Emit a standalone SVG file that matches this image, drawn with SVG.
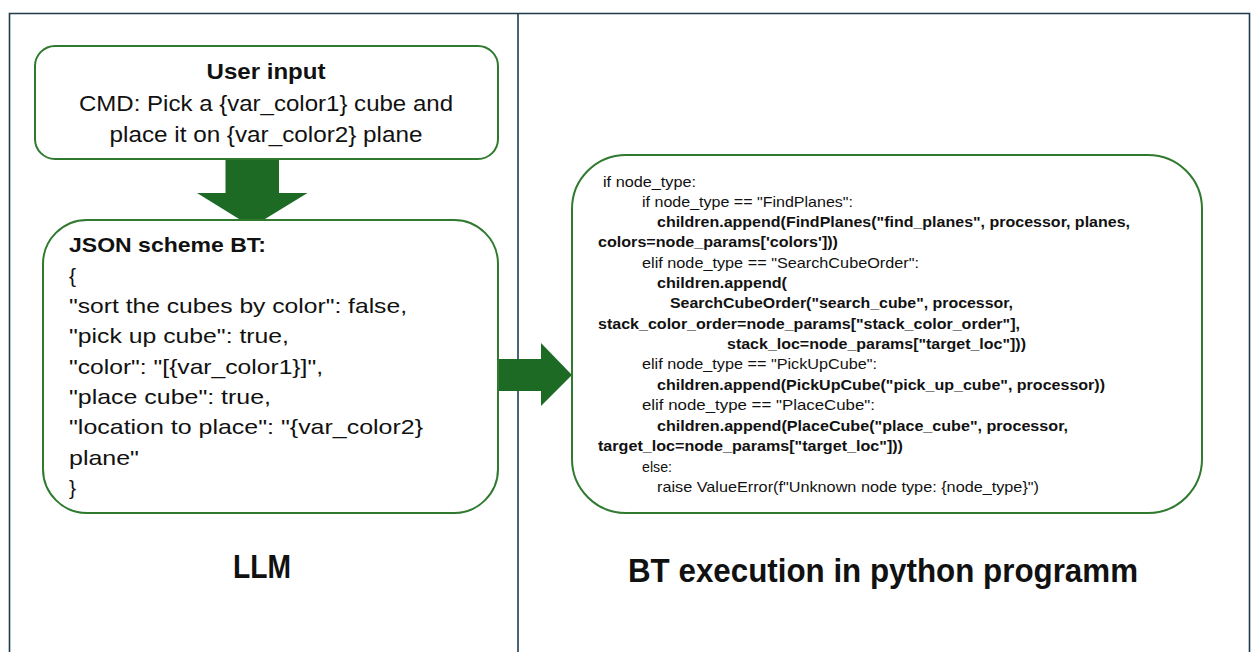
<svg xmlns="http://www.w3.org/2000/svg" width="1254" height="652" viewBox="0 0 1254 652">
  <style>
    .frame { fill: none; stroke: #1f3b4d; stroke-width: 1.6; }
    .box { fill: #ffffff; stroke: #2f7a2f; stroke-width: 2; }
    .arrow { fill: #1d6a25; stroke: none; }
    .t { font-family: "Liberation Sans", Arial, sans-serif; fill: #111111; }
    .head { font-size: 22px; font-weight: bold; }
    .body { font-size: 22px; }
    .json { font-size: 21px; }
    .jsonhead { font-size: 21px; font-weight: bold; }
    .code { font-size: 15px; }
    .codeb { font-size: 15px; font-weight: bold; }
    .label { font-size: 33px; font-weight: bold; }
  </style>

  <rect width="1254" height="652" fill="#ffffff"/>

  <!-- panel frame: two columns, open at the bottom -->
  <g id="panels">
    <path class="frame" d="M9.5 652 V13.5 H1249.5 V652"/>
    <line class="frame" x1="518" y1="13.5" x2="518" y2="652"/>
    <text class="t label" x="262" y="578" text-anchor="middle" textLength="58" lengthAdjust="spacingAndGlyphs">LLM</text>
    <text class="t label" x="883" y="582" text-anchor="middle" textLength="510" lengthAdjust="spacingAndGlyphs">BT execution in python programm</text>
  </g>

  <!-- connectors -->
  <g id="connectors">
    <polygon class="arrow" points="225.5,158 279,158 279,193 307.5,193 252,227 197,193 225.5,193"/>
    <polygon class="arrow" points="498,359 541,359 541,343 572,375 541,406 541,391 498,391"/>
  </g>

  <!-- user command -->
  <g id="user-input">
    <rect class="box" x="35" y="46" width="463" height="113" rx="20" ry="20"/>
    <text class="t head" x="266" y="79" text-anchor="middle" textLength="119" lengthAdjust="spacingAndGlyphs">User input</text>
    <text class="t body" x="266" y="111" text-anchor="middle" textLength="374" lengthAdjust="spacingAndGlyphs">CMD: Pick a {var_color1} cube and</text>
    <text class="t body" x="266" y="142" text-anchor="middle" textLength="313" lengthAdjust="spacingAndGlyphs">place it on {var_color2} plane</text>
  </g>

  <!-- behaviour tree as JSON -->
  <g id="json-scheme">
    <rect class="box" x="43" y="220" width="455" height="293" rx="44" ry="44"/>
    <text class="t jsonhead" x="69" y="252" textLength="197" lengthAdjust="spacingAndGlyphs">JSON scheme BT:</text>
    <text class="t json" x="69" y="283">{</text>
    <text class="t json" x="69" y="313" textLength="338" lengthAdjust="spacingAndGlyphs">"sort the cubes by color": false,</text>
    <text class="t json" x="69" y="343" textLength="220" lengthAdjust="spacingAndGlyphs">"pick up cube": true,</text>
    <text class="t json" x="69" y="374" textLength="254" lengthAdjust="spacingAndGlyphs">"color": "[{var_color1}]",</text>
    <text class="t json" x="69" y="404" textLength="202" lengthAdjust="spacingAndGlyphs">"place cube": true,</text>
    <text class="t json" x="69" y="434" textLength="354" lengthAdjust="spacingAndGlyphs">"location to place": "{var_color2}</text>
    <text class="t json" x="69" y="465" textLength="70" lengthAdjust="spacingAndGlyphs">plane"</text>
    <text class="t json" x="69" y="495">}</text>
  </g>

  <!-- python node factory -->
  <g id="python-code">
    <rect class="box" x="572" y="155" width="630" height="358" rx="54" ry="54"/>
    <text class="t code" x="603" y="187" textLength="93" lengthAdjust="spacingAndGlyphs">if node_type:</text>
    <text class="t code" x="642" y="207" textLength="211" lengthAdjust="spacingAndGlyphs">if node_type == "FindPlanes":</text>
    <text class="t codeb" x="657" y="227" textLength="473" lengthAdjust="spacingAndGlyphs">children.append(FindPlanes("find_planes", processor, planes,</text>
    <text class="t codeb" x="598" y="247" textLength="240" lengthAdjust="spacingAndGlyphs">colors=node_params['colors']))</text>
    <text class="t code" x="642" y="268" textLength="277" lengthAdjust="spacingAndGlyphs">elif node_type == "SearchCubeOrder":</text>
    <text class="t codeb" x="657" y="288" textLength="130" lengthAdjust="spacingAndGlyphs">children.append(</text>
    <text class="t codeb" x="670" y="308" textLength="343" lengthAdjust="spacingAndGlyphs">SearchCubeOrder("search_cube", processor,</text>
    <text class="t codeb" x="598" y="329" textLength="422" lengthAdjust="spacingAndGlyphs">stack_color_order=node_params["stack_color_order"],</text>
    <text class="t codeb" x="727" y="349" textLength="299" lengthAdjust="spacingAndGlyphs">stack_loc=node_params["target_loc"]))</text>
    <text class="t code" x="642" y="369" textLength="235" lengthAdjust="spacingAndGlyphs">elif node_type == "PickUpCube":</text>
    <text class="t codeb" x="657" y="390" textLength="448" lengthAdjust="spacingAndGlyphs">children.append(PickUpCube("pick_up_cube", processor))</text>
    <text class="t code" x="642" y="410" textLength="233" lengthAdjust="spacingAndGlyphs">elif node_type == "PlaceCube":</text>
    <text class="t codeb" x="657" y="431" textLength="411" lengthAdjust="spacingAndGlyphs">children.append(PlaceCube("place_cube", processor,</text>
    <text class="t codeb" x="598" y="451" textLength="305" lengthAdjust="spacingAndGlyphs">target_loc=node_params["target_loc"]))</text>
    <text class="t code" x="642" y="472" textLength="30" lengthAdjust="spacingAndGlyphs">else:</text>
    <text class="t code" x="657" y="492" textLength="382" lengthAdjust="spacingAndGlyphs">raise ValueError(f"Unknown node type: {node_type}")</text>
  </g>
</svg>
